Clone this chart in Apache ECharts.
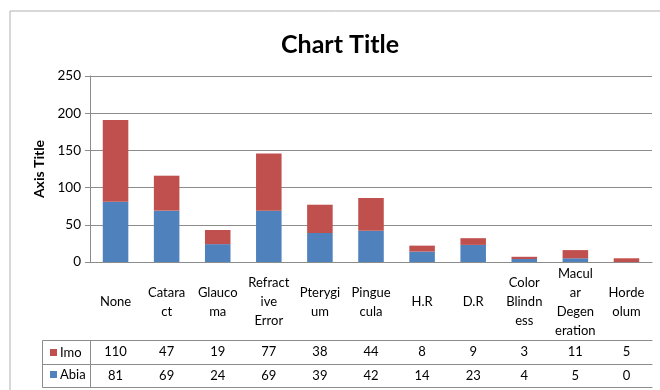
<!DOCTYPE html>
<html>
<head>
<meta charset="utf-8">
<script src="https://cdn.jsdelivr.net/npm/echarts@6/dist/echarts.min.js"></script>
<style>
    html, body { margin: 0; padding: 0; background: #fff; }
    #chart { width: 660px; height: 390px; }
</style>
</head>
<body>
<div id="chart"></div>
<script>
// category labels, wrapped the way the table cells wrap them
const categories = ['None', 'Catara\nct', 'Glauco\nma', 'Refract\nive\nError', 'Pterygi\num',
    'Pingue\ncula', 'H.R', 'D.R', 'Color\nBlindn\ness', 'Macul\nar\nDegen\neration', 'Horde\nolum'];
const imoValues = [110, 47, 19, 77, 38, 44, 8, 9, 3, 11, 5];
const abiaValues = [81, 69, 24, 69, 39, 42, 14, 23, 4, 5, 0];
const yTicks = [0, 50, 100, 150, 200, 250];

const FONT = 'Lato';
const LINE = '#8c8c8c';
const RED = '#C0504D';
const BLUE = '#4F81BD';

const chart = echarts.init(document.getElementById('chart'));

// one extra x axis for each row of the data table
const tableRow = (values, offset) => ({
    type: 'category',
    data: values.map(String),
    position: 'bottom',
    offset,
    axisLine: { lineStyle: { color: LINE } },
    axisTick: { show: false },
    axisLabel: {
        interval: 0, margin: 12, verticalAlign: 'middle',
        color: '#000', fontFamily: FONT, fontSize: 13,
    },
});

const option = {
    animation: false,
    textStyle: { fontFamily: FONT },
    title: {
        text: 'Chart Title',
        left: 276,
        top: 27,
        textStyle: { fontFamily: FONT, fontSize: 25, fontWeight: 'bold', color: '#000' },
    },
    legend: {
        data: ['Imo', 'Abia'],
        orient: 'vertical',
        left: 45,
        top: 341,
        itemWidth: 7,
        itemHeight: 7,
        itemGap: 9,
        icon: 'rect',
        textStyle: { fontFamily: FONT, fontSize: 13, color: '#000', padding: [0, 0, 0, -2] },
    },
    grid: { left: 90, right: 8, top: 76, bottom: 128 },
    xAxis: [
        {
            type: 'category',
            data: categories,
            axisLine: { lineStyle: { color: LINE } },
            axisTick: { interval: 0, length: 126, lineStyle: { color: LINE } },
            axisLabel: {
                interval: 0, margin: 40, verticalAlign: 'middle', lineHeight: 19,
                color: '#000', fontFamily: FONT, fontSize: 13,
            },
        },
        tableRow(imoValues, 78),
        tableRow(abiaValues, 102),
        {
            type: 'category',
            data: categories,
            position: 'bottom',
            offset: 125,
            axisLine: { lineStyle: { color: LINE } },
            axisTick: { show: false },
            axisLabel: { show: false },
        },
    ],
    yAxis: {
        type: 'value',
        min: yTicks[0],
        max: yTicks[yTicks.length - 1],
        interval: 50,
        name: 'Axis Title',
        nameLocation: 'middle',
        nameGap: 44,
        nameTextStyle: { fontFamily: FONT, fontSize: 14, fontWeight: 'bold', color: '#000' },
        axisLine: { show: true, lineStyle: { color: LINE } },
        axisTick: { show: true, length: 5, lineStyle: { color: LINE } },
        axisLabel: { margin: 9, color: '#000', fontFamily: FONT, fontSize: 13.5 },
        splitLine: { lineStyle: { color: LINE } },
    },
    series: [
        {
            name: 'Abia', type: 'bar', stack: 'total', data: abiaValues,
            barWidth: '50%', itemStyle: { color: BLUE },
        },
        {
            name: 'Imo', type: 'bar', stack: 'total', data: imoValues,
            barWidth: '50%', itemStyle: { color: RED },
        },
    ],
    graphic: [
        // chart area border
        { type: 'rect', shape: { x: 10, y: 11, width: 700, height: 420 },
          style: { fill: 'none', stroke: '#b0b0b0', lineWidth: 1 }, silent: true },
        // legend cells of the data table
        { type: 'rect', shape: { x: 42.5, y: 340.5, width: 48, height: 47 },
          style: { fill: 'none', stroke: LINE, lineWidth: 1 }, silent: true },
        { type: 'line', shape: { x1: 42.5, y1: 364.5, x2: 90, y2: 364.5 },
          style: { stroke: LINE, lineWidth: 1 }, silent: true },
    ],
};

chart.setOption(option);
</script>
</body>
</html>
